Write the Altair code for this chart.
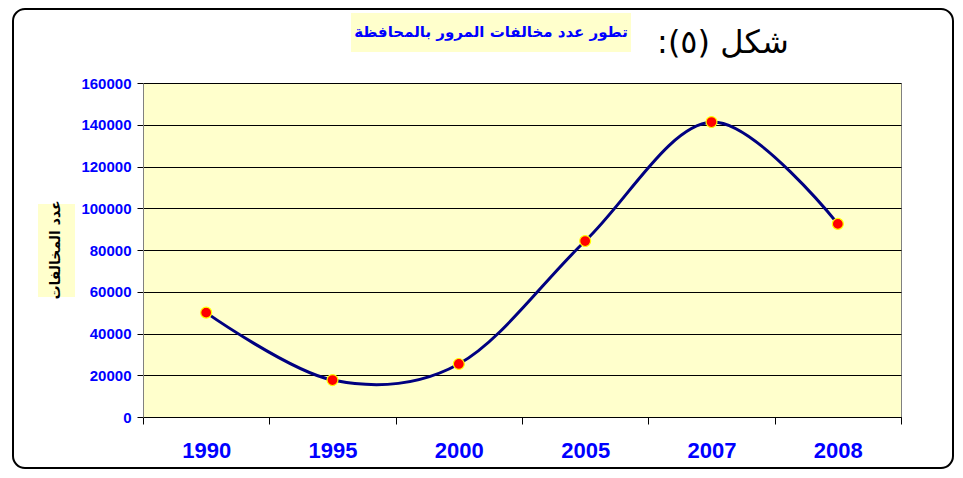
import altair as alt
import pandas as pd

# ---- data ----
years = ["1990", "1995", "2000", "2005", "2007", "2008"]
violations = [50000, 17700, 25400, 84300, 141300, 92500]
y_ticks = [0, 20000, 40000, 60000, 80000, 100000, 120000, 140000, 160000]
chart_title = ["تطور عدد مخالفات المرور بالمحافظة"]
figure_label = ["شكل (٥):\u200f"]
y_title = ["عدد المخالفات"]

df = pd.DataFrame({"year": years, "count": violations})

W, H = 758, 334
BLUE = "#0000FF"

x_enc = alt.X(
    "year:N",
    sort=years,
    bandPosition=0.5,
    scale=alt.Scale(type="band", paddingInner=0, paddingOuter=0),
    axis=alt.Axis(
        title=None,
        labelAngle=0,
        tickBand="extent",
        grid=False,
        domainColor="black",
        tickColor="black",
        tickSize=7,
        labelColor=BLUE,
        labelFont="Liberation Sans",
        labelFontWeight="bold",
        labelFontSize=22,
        labelPadding=16,
    ),
)
y_enc = alt.Y(
    "count:Q",
    scale=alt.Scale(domain=[0, 160000], nice=False),
    axis=alt.Axis(
        title=None,
        values=y_ticks,
        format="d",
        grid=True,
        gridColor="black",
        gridWidth=1,
        domainColor="#808080",
        tickColor="black",
        tickSize=6,
        labelColor=BLUE,
        labelFont="Liberation Sans",
        labelFontWeight="bold",
        labelFontSize=15,
        labelPadding=6,
    ),
)

line = alt.Chart(df).mark_line(
    interpolate="cardinal", color="#000080", strokeWidth=3
).encode(x=x_enc, y=y_enc)

points = alt.Chart(df).mark_circle(
    fill="#FF0000", stroke="#FFFF00", strokeWidth=1.2, opacity=1, size=120
).encode(x=alt.X("year:N", sort=years, bandPosition=0.5), y="count:Q")

one = pd.DataFrame({"k": [0]})

border = alt.Chart(one).mark_rect(
    fillOpacity=0, stroke="black", strokeWidth=2, cornerRadius=12
).encode(x=alt.value(-130), x2=alt.value(810), y=alt.value(-74), y2=alt.value(385))

title_bg = alt.Chart(one).mark_rect(fill="#FFFFCC").encode(
    x=alt.value(208), x2=alt.value(488), y=alt.value(-70), y2=alt.value(-31)
)
title_txt = alt.Chart(pd.DataFrame({"t": chart_title})).mark_text(
    font="DejaVu Sans", fontWeight="bold", fontSize=15, color=BLUE,
    align="center", baseline="middle"
).encode(x=alt.value(348), y=alt.value(-51), text="t:N")

fig_txt = alt.Chart(pd.DataFrame({"t": figure_label})).mark_text(
    font="DejaVu Sans", fontSize=32, color="black",
    align="center", baseline="middle"
).encode(x=alt.value(580), y=alt.value(-40), text="t:N")

ytitle_bg = alt.Chart(one).mark_rect(fill="#FFFFCC").encode(
    x=alt.value(-105), x2=alt.value(-68), y=alt.value(121), y2=alt.value(214)
)
ytitle_txt = alt.Chart(pd.DataFrame({"t": y_title})).mark_text(
    font="DejaVu Sans", fontWeight="bold", fontSize=14, color="black",
    align="center", baseline="middle", angle=270
).encode(x=alt.value(-87), y=alt.value(167), text="t:N")

chart = alt.layer(
    line, points, border, title_bg, title_txt, fig_txt, ytitle_bg, ytitle_txt
).properties(
    width=W,
    height=H,
    autosize=alt.AutoSizeParams(type="none"),
    padding={"left": 135, "top": 75, "right": 54, "bottom": 53},
    background="white",
).configure_view(
    fill="#FFFFCC", stroke="#808080", strokeWidth=1
)

chart.save("out.html", embed_options={"renderer": "svg", "actions": False})
